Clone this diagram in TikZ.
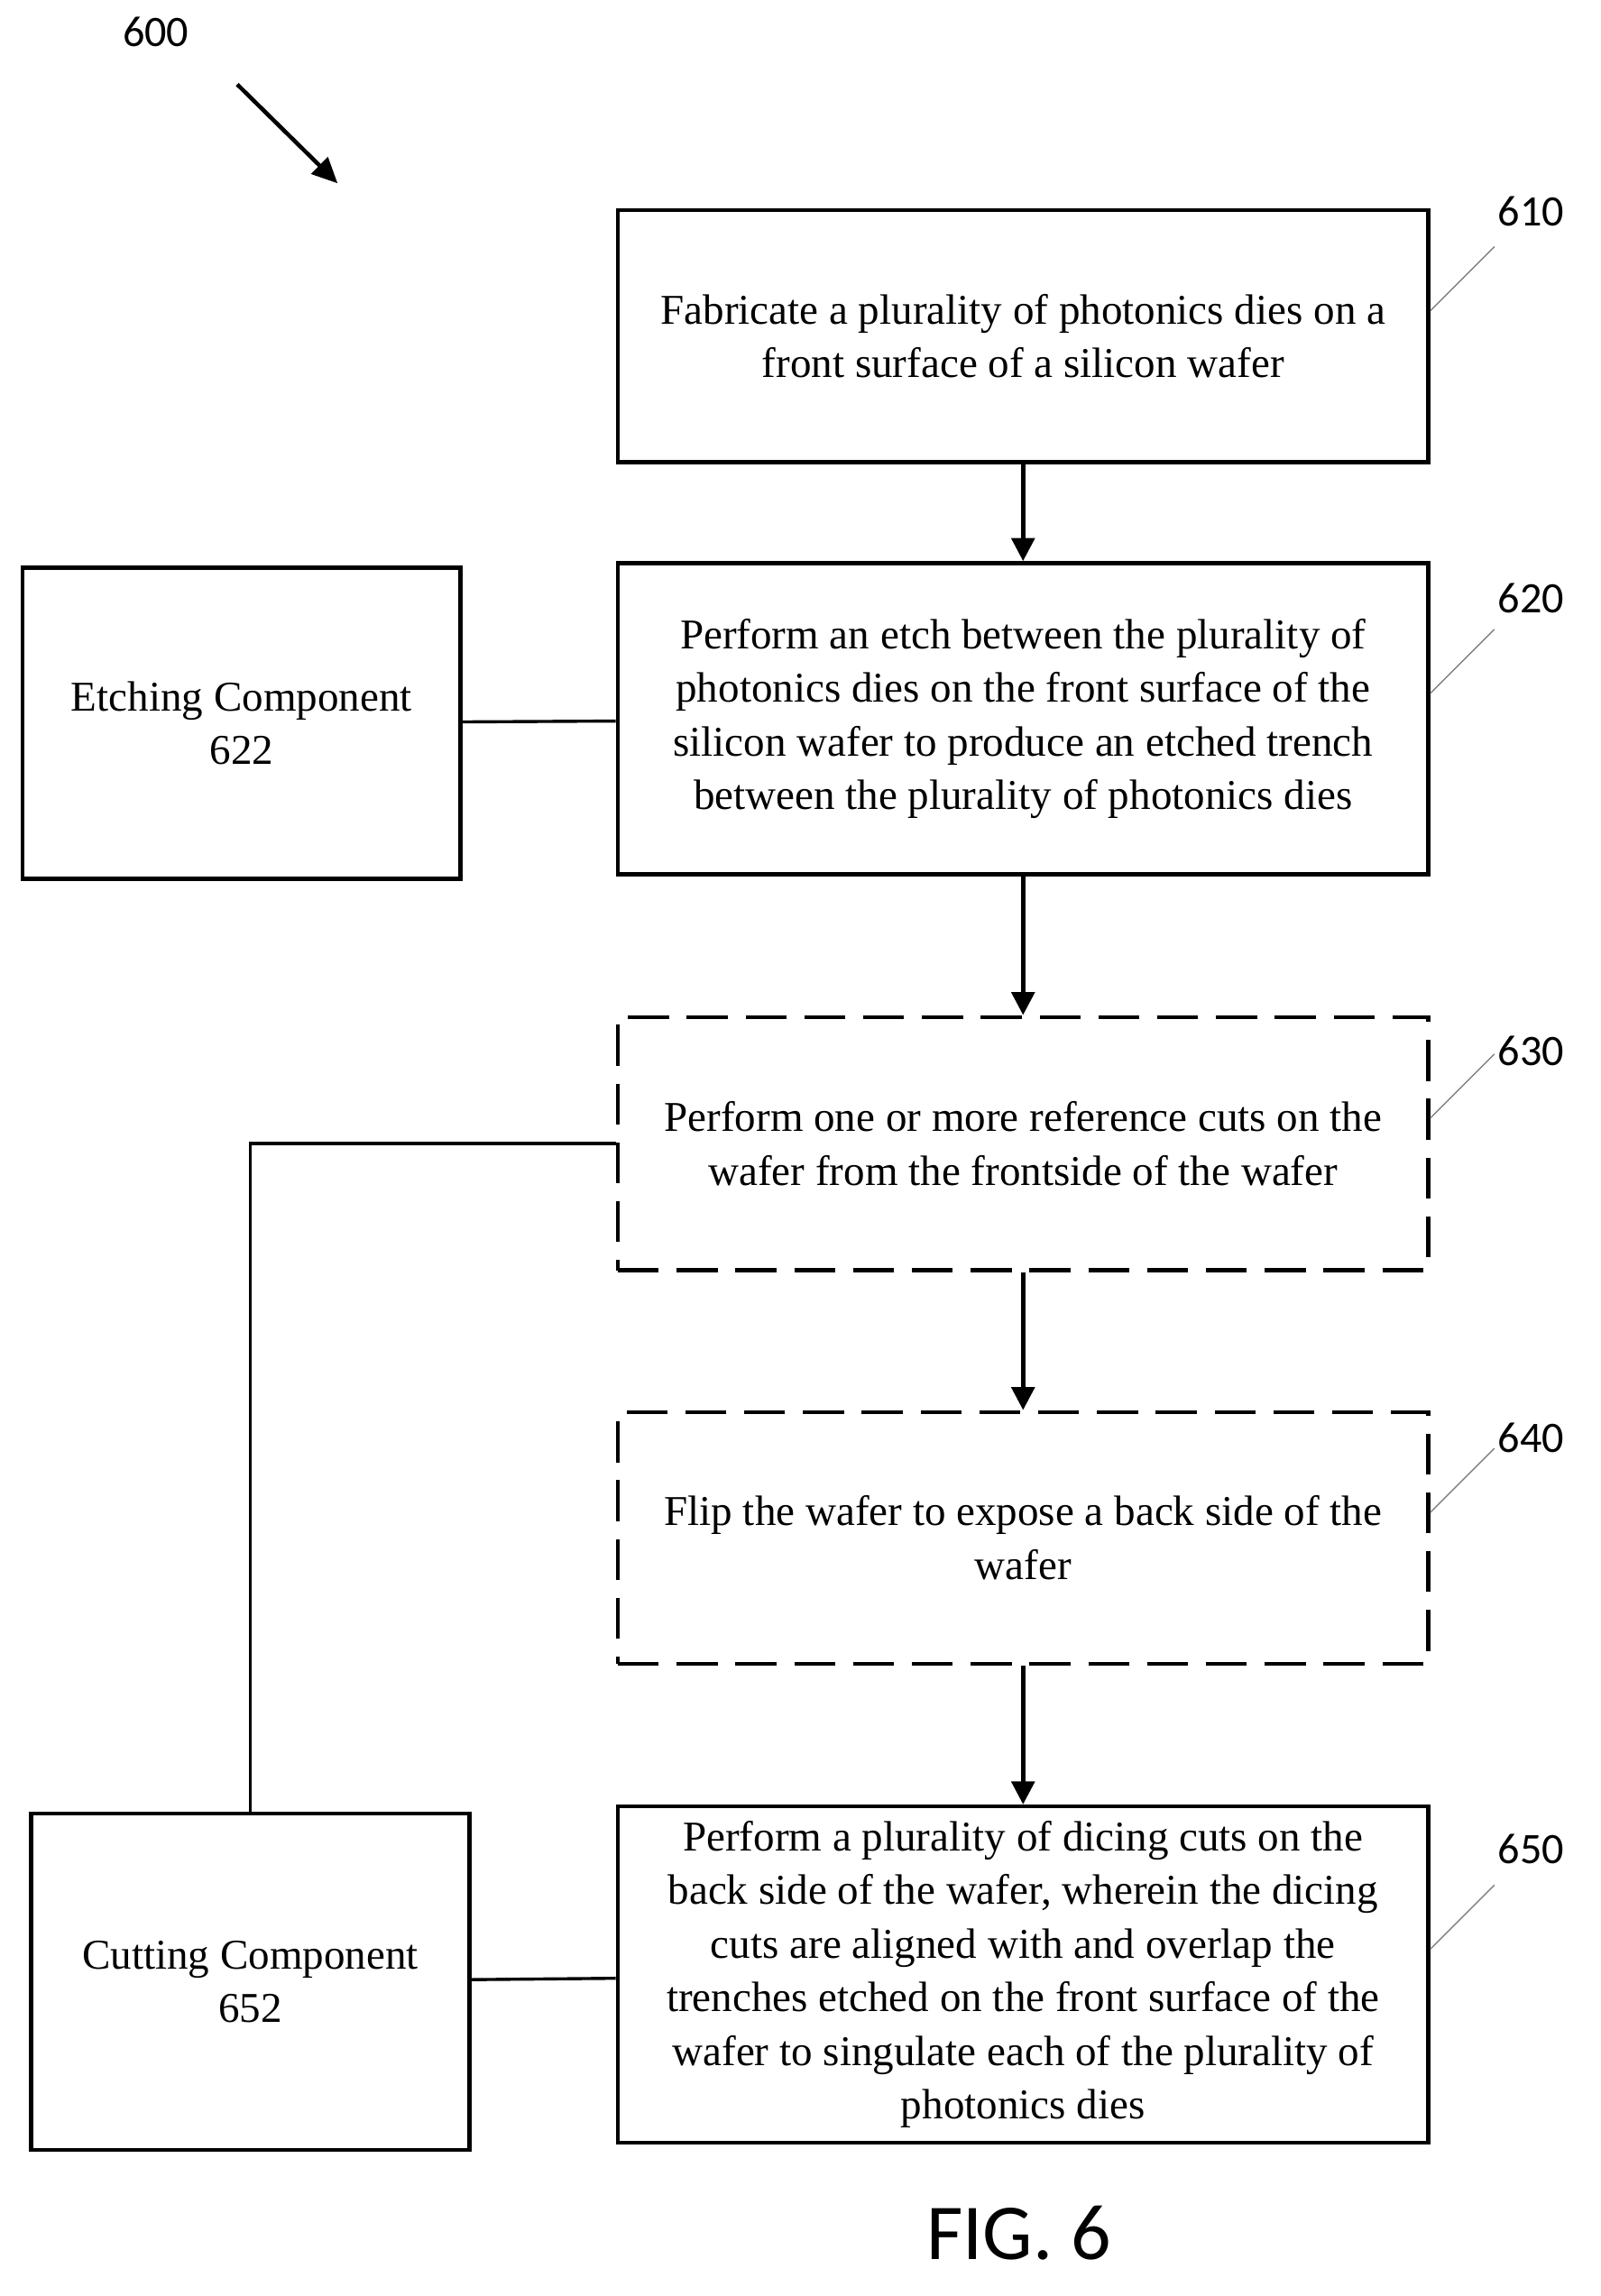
\documentclass[tikz,border=0pt]{standalone}
\usepackage{fontspec}
\setmainfont{Liberation Serif}
\newfontfamily\labelfont{Carlito}
\usetikzlibrary{positioning,arrows.meta}
\tikzset{
  stepbox/.style={draw, line width=1.6pt, minimum width=11.14cm, align=center,
    font=\fontsize{16.6}{21}\selectfont, inner sep=0pt},
  optbox/.style={stepbox, dash pattern=on 16pt off 7pt},
  comp/.style={draw, line width=1.6pt, minimum width=6.02cm, minimum height=4.28cm,
    align=center, font=\fontsize{16.6}{21}\selectfont},
  ref/.style={font=\labelfont\fontsize{17}{20}\selectfont},
  lead/.style={gray, line width=0.5pt},
  flow/.style={line width=1.6pt, -{Triangle[length=9pt,width=9pt]}},
  link/.style={line width=1.2pt}
}
\begin{document}
\begin{tikzpicture}[x=0.02cm,y=-0.02cm]
\useasboundingbox (0,0) rectangle (1100,1578);
\node[ref] (n600) at (107,22) {600};
\draw[line width=1.6pt,-{Triangle[length=10pt,width=9pt]}] (163,58) -- (232,126);
% steps
\node[stepbox, minimum height=3.46cm] (s610) at (703,231) {Fabricate a plurality of photonics dies on a\\front surface of a silicon wafer};
\node[stepbox, minimum height=4.28cm] (s620) at (703,494) {Perform an etch between the plurality of\\photonics dies on the front surface of the\\silicon wafer to produce an etched trench\\between the plurality of photonics dies};
\node[optbox, minimum height=3.48cm] (s630) at (703,786) {Perform one or more reference cuts on the\\wafer from the frontside of the wafer};
\node[optbox, minimum height=3.46cm] (s640) at (703,1057) {Flip the wafer to expose a back side of the\\wafer};
\node[stepbox, minimum height=4.62cm] (s650) at (703,1357) {Perform a plurality of dicing cuts on the\\back side of the wafer, wherein the dicing\\cuts are aligned with and overlap the\\trenches etched on the front surface of the\\wafer to singulate each of the plurality of\\photonics dies};
% components
\node[comp] (c622) at (166,497) {Etching Component\\622};
\node[comp, minimum height=4.62cm] (c652) at (172,1362) {Cutting Component\\652};
% arrows
\draw[flow] (s610) -- (s620);
\draw[flow] (s620) -- (s630);
\draw[flow] (s630) -- (s640);
\draw[flow] (s640) -- (s650);
\draw[link] (c622) -- (s620);
\draw[link] (c652) -- (s650);
\draw[link] (c652.north) |- (s630.west);
% reference numbers
\foreach \s/\n/\y in {s610/610/145, s620/620/411, s630/630/722, s640/640/988, s650/650/1271}{
  \node[ref] (r\n) at (1052,\y) {\n};
  \draw[lead] ([yshift=0.35cm]\s.east) -- ++(44,-44);
}
\node[font=\labelfont\fontsize{31}{36}\selectfont] (fig) at (700,1535) {FIG. 6};
\end{tikzpicture}
\end{document}
